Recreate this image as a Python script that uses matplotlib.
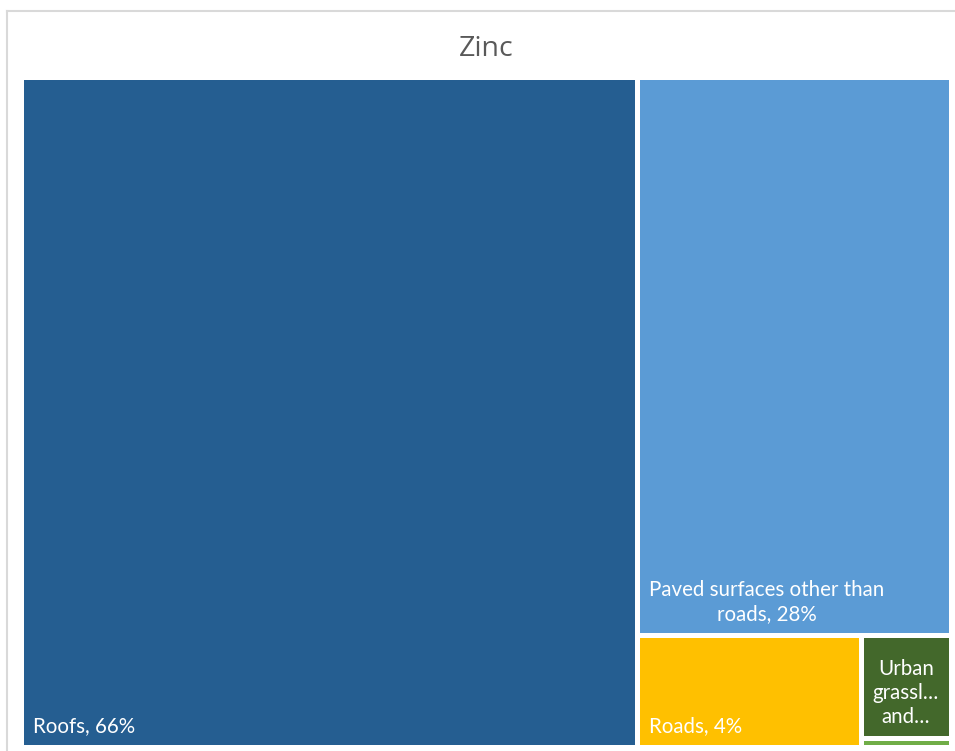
import matplotlib
matplotlib.use("Agg")
import matplotlib.pyplot as plt
from matplotlib.patches import Rectangle
from matplotlib.lines import Line2D

# Zinc load by source surface (% of total)
categories = ["Roofs", "Paved surfaces other than roads", "Roads",
              "Urban grassland and gardens", "Other"]
values = [66, 28, 4, 1.48, 0.12]
tile_labels = ["Roofs, 66%", "Paved surfaces other than\nroads, 28%", "Roads, 4%",
               "Urban\ngrassl\u2026\nand\u2026", ""]
colors = ["#255E91", "#5B9BD5", "#FFC000", "#43682B", "#70AD47"]

W_PX, H_PX, DPI = 955, 751, 100


def worst(row, length):
    s = sum(row)
    return max(max(length * length * r / (s * s), (s * s) / (length * length * r)) for r in row)


def layout_row(row, x, y, w, h):
    rects = []
    s = sum(row)
    if w >= h:
        cw = s / h
        yy = y
        for r in row:
            rh = r / cw
            rects.append((x, yy, cw, rh))
            yy += rh
        return rects, (x + cw, y, w - cw, h)
    rh = s / w
    xx = x
    for r in row:
        cw = r / rh
        rects.append((xx, y, cw, rh))
        xx += cw
    return rects, (x, y + rh, w, h - rh)


def squarify(vals, x, y, w, h):
    total = sum(vals)
    areas = [v * w * h / total for v in vals]
    out = []
    rect = (x, y, w, h)
    row = []
    i = 0
    while i < len(areas):
        length = min(rect[2], rect[3])
        a = areas[i]
        if not row or worst(row + [a], length) <= worst(row, length):
            row.append(a)
            i += 1
        else:
            placed, rect = layout_row(row, *rect)
            out.extend(placed)
            row = []
    if row:
        placed, rect = layout_row(row, *rect)
        out.extend(placed)
    return out


fig = plt.figure(figsize=(W_PX / DPI, H_PX / DPI), dpi=DPI)
fig.patch.set_facecolor("white")

# outer chart frame
frame_kw = dict(color="#D9D9D9", linewidth=1.5)
fig.add_artist(Line2D([7 / W_PX, 7 / W_PX], [1 - 11 / H_PX, 0], transform=fig.transFigure, **frame_kw))
fig.add_artist(Line2D([7 / W_PX, 1], [1 - 11 / H_PX, 1 - 11 / H_PX], transform=fig.transFigure, **frame_kw))

fig.text(486 / W_PX, 1 - 49 / H_PX, "Zinc", ha="center", va="center",
         fontsize=20.5, color="#595959", family=["Open Sans", "DejaVu Sans"])

# plotting area in pixel units (y grows downward)
left, top, right, bottom = 22, 78, 951, 747
aw, ah = right - left, bottom - top
ax = fig.add_axes([left / W_PX, 1 - bottom / H_PX, aw / W_PX, ah / H_PX])
ax.set_xlim(0, aw)
ax.set_ylim(ah, 0)
ax.axis("off")

gap = 2.2
pad_x, pad_y = 9, 13
tiles = squarify(values, 0, 0, aw, ah)
for (x, y, w, h), c, lab in zip(tiles, colors, tile_labels):
    ax.add_patch(Rectangle((x + gap, y + gap), w - 2 * gap, h - 2 * gap,
                           facecolor=c, edgecolor="none"))
    if lab:
        ax.text(x + gap + pad_x, y + h - gap - pad_y, lab, ha="left", va="baseline",
                multialignment="center", color="white", fontsize=14.8,
                family=["Lato", "DejaVu Sans"], linespacing=1.25)

fig.savefig("out.png", dpi=DPI)
